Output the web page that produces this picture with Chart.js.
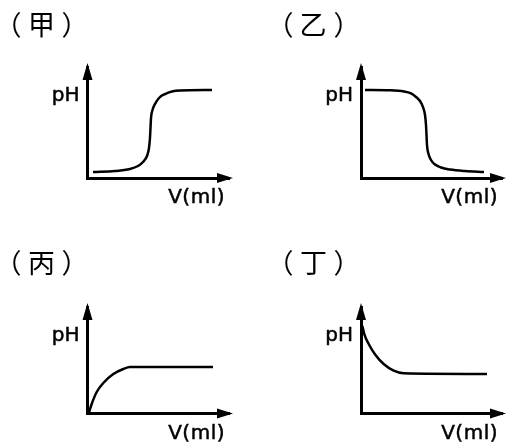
<!DOCTYPE html>
<html>
<head>
<meta charset="utf-8">
<script src="https://cdn.jsdelivr.net/npm/chart.js"></script>
<style>
  body { margin: 0; background: #fff; }
  #wrap { position: relative; width: 514px; height: 448px; }
  canvas { position: absolute; }
</style>
</head>
<body>
<div id="wrap">
  <canvas id="jia" width="257" height="224" style="left:0;top:0"></canvas>
  <canvas id="yi" width="257" height="224" style="left:257px;top:0"></canvas>
  <canvas id="bing" width="257" height="224" style="left:0;top:224px"></canvas>
  <canvas id="ding" width="257" height="224" style="left:257px;top:224px"></canvas>
</div>
<script>
// panel titles and axis labels
const titles = ["（甲）", "（乙）", "（丙）", "（丁）"];
const yLabel = "pH";
const xLabel = "V(ml)";

// curves: V (ml) on x, pH on y
const vJia  = [1.94, 9.72, 15.02, 17.84, 19.61, 21.02, 21.73, 22.08, 22.26, 22.44, 22.97, 23.85, 25.27, 27.39, 29.86, 32.69, 44.0];
const phJia = [0.76, 0.88, 1.14, 1.51, 2.02, 2.77, 3.78, 5.04, 6.31, 7.57, 8.58, 9.33, 10.09, 10.59, 10.91, 11.04, 11.1];

const vYi  = [1.42, 10.28, 15.25, 17.73, 19.5, 20.92, 21.99, 22.7, 23.05, 23.23, 23.4, 23.94, 24.82, 26.24, 28.37, 31.56, 36.88, 43.62];
const phYi = [11.1, 11.06, 10.91, 10.66, 10.22, 9.71, 8.95, 7.95, 6.68, 5.42, 4.16, 3.03, 2.27, 1.7, 1.32, 1.07, 0.88, 0.76];

const vBing  = [0.53, 1.48, 3.25, 5.58, 9.12, 12.65, 15.02, 44.35];
const phBing = [0.13, 1.25, 2.83, 4.01, 5.19, 5.85, 6.11, 6.11];

const vDing  = [0.46, 1.17, 2.73, 5.07, 8.05, 11.6, 15.14, 44.68];
const phDing = [11.54, 10.45, 9.14, 7.73, 6.51, 5.63, 5.28, 5.19];

const axisDecor = {
  id: 'axisDecor',
  afterDraw(chart, args, opts) {
    const ctx = chart.ctx;
    const a = chart.chartArea;
    ctx.save();
    ctx.fillStyle = '#000';
    ctx.strokeStyle = '#000';
    // arrow heads
    ctx.beginPath();
    ctx.moveTo(a.left, a.top - 4);
    ctx.lineTo(a.left - 5, a.top + 13);
    ctx.lineTo(a.left + 5, a.top + 13);
    ctx.closePath();
    ctx.fill();
    ctx.beginPath();
    ctx.moveTo(a.right + 4, a.bottom);
    ctx.lineTo(a.right - 12, a.bottom - 5);
    ctx.lineTo(a.right - 12, a.bottom + 5);
    ctx.closePath();
    ctx.fill();
    // axis labels (a thin stroke makes them a little heavier)
    ctx.lineWidth = 0.5;
    ctx.font = '20px "DejaVu Sans"';
    ctx.textBaseline = 'middle';
    ctx.textAlign = 'right';
    ctx.fillText(yLabel, a.left - 8, a.top + 29);
    ctx.strokeText(yLabel, a.left - 8, a.top + 29);
    ctx.letterSpacing = '0.5px';
    ctx.fillText(xLabel, a.right - 4, a.bottom + 20);
    ctx.strokeText(xLabel, a.right - 4, a.bottom + 20);
    ctx.letterSpacing = '0px';
    // panel title: ink of each glyph centred in its own cell
    ctx.textAlign = 'left';
    ctx.font = '27px "Noto Sans CJK TC"';
    Array.from(opts.text).forEach((ch, i) => {
      const m = ctx.measureText(ch);
      const cx = opts.x + i * 25;
      ctx.fillText(ch, cx - (m.actualBoundingBoxRight - m.actualBoundingBoxLeft) / 2, opts.y);
    });
    ctx.restore();
  }
};

function axis(max) {
  return {
    type: 'linear', min: 0, max: max,
    grid: { display: false, drawTicks: false },
    ticks: { display: false },
    border: { display: true, color: '#000', width: 3 }
  };
}

function panel(id, title, xs, ys, box, tx, ty) {
  new Chart(document.getElementById(id), {
    type: 'line',
    data: {
      datasets: [{
        data: xs.map((v, i) => ({ x: v, y: ys[i] })),
        borderColor: '#000',
        borderWidth: 2.5,
        pointRadius: 0,
        fill: false,
        cubicInterpolationMode: 'monotone',
        clip: false
      }]
    },
    options: {
      responsive: false,
      animation: false,
      events: [],
      layout: { padding: { left: box[0], top: box[1], right: 257 - box[2], bottom: 224 - box[3] } },
      scales: { x: axis(50), y: axis(14) },
      plugins: {
        legend: { display: false },
        tooltip: { enabled: false },
        axisDecor: { text: title, x: tx, y: ty }
      }
    },
    plugins: [axisDecor]
  });
}

panel('jia',  titles[0], vJia,  phJia,  [87.5, 67, 229, 178],   16.5, 25);
panel('yi',   titles[1], vYi,   phYi,   [104, 67, 245, 178],    31.5, 25);
panel('bing', titles[2], vBing, phBing, [87.5, 83, 229, 189.5], 16.5, 39);
panel('ding', titles[3], vDing, phDing, [104, 83, 245, 189.5],  31.5, 39);
</script>
</body>
</html>
